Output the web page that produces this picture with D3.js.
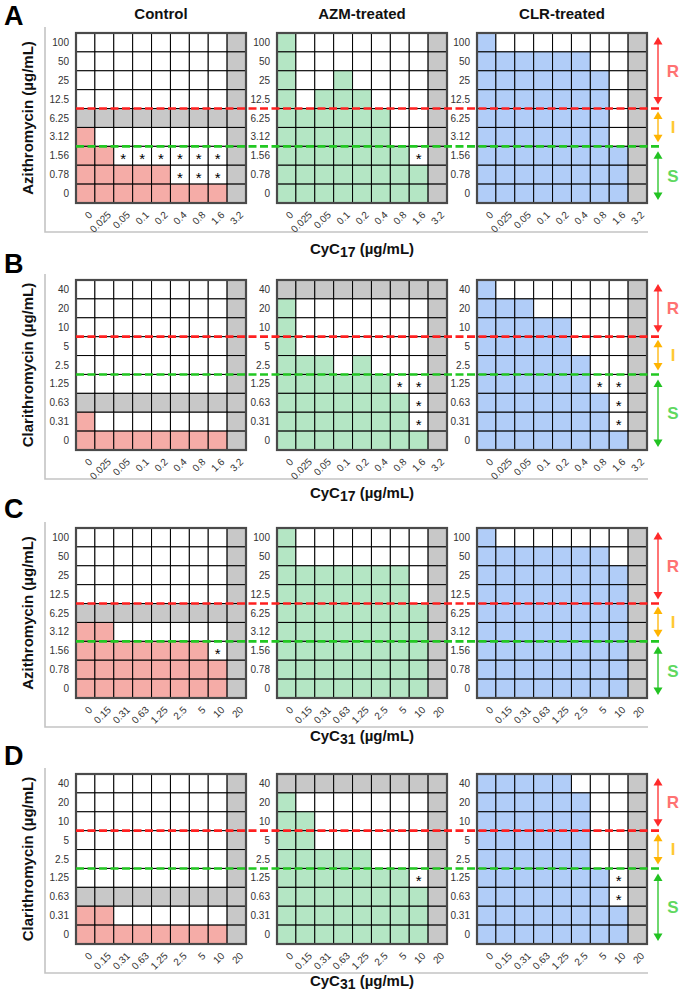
<!DOCTYPE html>
<html><head><meta charset="utf-8">
<script src="https://cdn.jsdelivr.net/npm/d3@7"></script>
<style>body{margin:0;background:#fff} svg{display:block} text{font-family:"Liberation Sans",Arial,sans-serif}</style>
</head><body><svg id="c" width="681" height="992"></svg>
<script>
// ---------- data ----------
const panelLetters = ["A", "B", "C", "D"];
const groupNames = ["Control", "AZM-treated", "CLR-treated"];
const yTitles = ["Azithromycin (µg/mL)", "Clarithromycin (µg/mL)", "Azithromycin (µg/mL)", "Clarithromycin (µg/mL)"];
const xTitleSub = ["17", "17", "31", "31"];
const azmConc = ["0", "0.78", "1.56", "3.12", "6.25", "12.5", "25", "50", "100"];
const clrConc = ["0", "0.31", "0.63", "1.25", "2.5", "5", "10", "20", "40"];
const cyc17Conc = ["0", "0.025", "0.05", "0.1", "0.2", "0.4", "0.8", "1.6", "3.2"];
const cyc31Conc = ["0", "0.15", "0.31", "0.63", "1.25", "2.5", "5", "10", "20"];
const yTicksPerPanel = [azmConc, clrConc, azmConc, clrConc];
const xTicksPerPanel = [cyc17Conc, cyc17Conc, cyc31Conc, cyc31Conc];
const resistantFrom = ["12.5", "10", "12.5", "10"];   // red line below this value
const susceptibleUpTo = ["1.56", "1.25", "1.56", "1.25"]; // green line above this value
const categories = ["R", "I", "S"];
// cell states, rows from highest concentration to 0, columns by CyC concentration
// 0 = no growth (white), 1 = growth (coloured), 2 = not determined (grey), 3 = white with *
const cellsA = [
  ["000000002","000000002","000000002","000000002","222222222","100000002","113333332","111113332","111111112"],
  ["100000002","100000002","100100002","101110002","111111002","111111002","111111132","111111112","111111112"],
  ["100000002","111111002","111111102","111111102","111111102","111111102","111111112","111111112","111111112"]
];
const cellsB = [
  ["000000002","000000002","000000002","000000002","000000002","000000002","222222222","100000002","111111112"],
  ["222222222","100000002","100000002","100000002","111010002","111111332","111111132","111111132","111111112"],
  ["100000002","111000002","111110002","111110002","111111002","111111332","111111132","111111132","111111112"]
];
const cellsC = [
  ["000000002","000000002","000000002","000000002","222222222","110000002","111111132","111111112","111111112"],
  ["100000002","100000002","111111102","111111102","111111112","111111112","111111112","111111112","111111112"],
  ["100000002","111111102","111111112","111111112","111111112","111111112","111111112","111111112","111111112"]
];
const cellsD = [
  ["000000002","000000002","000000002","000000002","000000002","000000002","222222222","110000002","111111112"],
  ["222222222","100000002","110000002","110000002","111110002","111111132","111111112","111111112","111111112"],
  ["111110002","111111002","111111002","111111002","111111002","111111132","111111132","111111112","111111112"]
];
const panelCells = [cellsA, cellsB, cellsC, cellsD];

// ---------- layout ----------
const rowTop = [33, 280, 528, 774];
const letterBaseline = [25, 273, 518, 765];
const xTitleY = [250, 494, 737, 982];
const gridLeft = [76, 277, 477];
const GS = 170;
const groupFill = ["#f5aca7", "#b4e6c4", "#b1cdf8"];
const greyFill = "#c8c8c8";
const catColor = {R: "#ff2a2a", I: "#ffb400", S: "#22c322"};
const catText = {R: "#ff7272", I: "#ffc933", S: "#5fd85f"};

const svg = d3.select("#c");

// column titles
groupNames.forEach((g, i) => {
  svg.append("text").attr("x", gridLeft[i] + GS / 2).attr("y", 18.5)
    .attr("text-anchor", "middle").attr("font-weight", "bold").attr("font-size", 15).attr("fill", "#111").text(g);
});

panelLetters.forEach((letter, p) => {
  const top = rowTop[p], bottom = top + GS;
  const g = svg.append("g");
  const yTicks = yTicksPerPanel[p].slice().reverse();
  const xTicks = xTicksPerPanel[p];
  const y = d3.scaleBand().domain(yTicks).range([top, bottom]);

  // frame
  g.append("path").attr("d", `M45,${top - 6}V${bottom + 29}H648`)
    .attr("fill", "none").attr("stroke", "#c4c4c4").attr("stroke-width", 1.6);

  // panel letter
  g.append("text").attr("x", 4).attr("y", letterBaseline[p])
    .attr("font-size", 27).attr("font-weight", "bold").attr("fill", "#000").text(letter);

  // y title
  g.append("text").attr("transform", `translate(33,${top + GS / 2}) rotate(-90)`)
    .attr("text-anchor", "middle").attr("font-weight", "bold").attr("font-size", 15).attr("fill", "#111")
    .text(yTitles[p]);

  // x title
  const xt = g.append("text").attr("x", gridLeft[1] + GS / 2).attr("y", xTitleY[p] + 4)
    .attr("text-anchor", "middle").attr("font-weight", "bold").attr("font-size", 15).attr("fill", "#111");
  xt.append("tspan").text("CyC");
  xt.append("tspan").attr("font-size", 14).attr("dy", 2.5).text(xTitleSub[p]);
  xt.append("tspan").attr("dy", -2.5).text(" (µg/mL)");

  groupNames.forEach((gn, gi) => {
    const x = d3.scaleBand().domain(xTicks).range([gridLeft[gi], gridLeft[gi] + GS]);
    const cells = [];
    panelCells[p][gi].forEach((rowStr, ri) => {
      rowStr.split("").forEach((ch, ci) => cells.push({r: yTicks[ri], c: xTicks[ci], v: +ch}));
    });
    const gg = g.append("g");
    gg.selectAll("rect.cell").data(cells).join("rect").attr("class", "cell")
      .attr("x", d => x(d.c)).attr("y", d => y(d.r))
      .attr("width", x.bandwidth()).attr("height", y.bandwidth())
      .attr("fill", d => d.v === 1 ? groupFill[gi] : d.v === 2 ? greyFill : "#fff")
      .attr("stroke", "#000").attr("stroke-width", 1);
    gg.selectAll("text.ast").data(cells.filter(d => d.v === 3)).join("text").attr("class", "ast")
      .attr("x", d => x(d.c) + x.bandwidth() / 2).attr("y", d => y(d.r) + y.bandwidth() / 2 + 8)
      .attr("text-anchor", "middle").attr("font-size", 15).attr("fill", "#000").text("*");
    gg.append("rect").attr("x", gridLeft[gi]).attr("y", top).attr("width", GS).attr("height", GS)
      .attr("fill", "none").attr("stroke", "#4a4a4a").attr("stroke-width", 2.2);

    // y axis ticks
    gg.selectAll("text.yt").data(yTicks).join("text").attr("class", "yt")
      .attr("x", gridLeft[gi] - 7).attr("y", d => y(d) + y.bandwidth() / 2).attr("dy", "0.35em")
      .attr("text-anchor", "end").attr("font-size", 10).attr("fill", "#333").text(d => d);
    // x axis ticks
    gg.selectAll("text.xt").data(xTicks).join("text").attr("class", "xt")
      .attr("transform", d => `translate(${x(d) + x.bandwidth() / 2 + 5},${bottom + 10}) rotate(-45)`)
      .attr("dy", "0.35em").attr("text-anchor", "end").attr("font-size", 10).attr("fill", "#333").text(d => d);
  });

  // breakpoint lines
  const redY = y(resistantFrom[p]) + y.bandwidth();
  const greenY = y(susceptibleUpTo[p]);
  g.append("line").attr("x1", gridLeft[0]).attr("x2", 660).attr("y1", redY).attr("y2", redY)
    .attr("stroke", "#ff2020").attr("stroke-width", 2.6).attr("stroke-dasharray", "8,3.5");
  g.append("line").attr("x1", gridLeft[0]).attr("x2", 660).attr("y1", greenY).attr("y2", greenY)
    .attr("stroke", "#22c822").attr("stroke-width", 2.6).attr("stroke-dasharray", "8,3.5");

  // R / I / S arrows
  const spans = {R: [top + 4, redY - 4], I: [redY + 3, greenY - 4], S: [greenY + 5, bottom - 3]};
  const ax = 658;
  categories.forEach(cat => {
    const [y1, y2] = spans[cat];
    const col = catColor[cat];
    g.append("line").attr("x1", ax).attr("x2", ax).attr("y1", y1 + 5).attr("y2", y2 - 5)
      .attr("stroke", col).attr("stroke-width", 1.3);
    g.append("path").attr("d", `M${ax},${y1}L${ax - 4.5},${y1 + 7.5}L${ax + 4.5},${y1 + 7.5}Z`).attr("fill", col);
    g.append("path").attr("d", `M${ax},${y2}L${ax - 4.5},${y2 - 7.5}L${ax + 4.5},${y2 - 7.5}Z`).attr("fill", col);
    g.append("text").attr("x", 673).attr("y", (y1 + y2) / 2).attr("dy", "0.36em")
      .attr("text-anchor", "middle").attr("font-weight", "bold").attr("font-size", 17)
      .attr("fill", catText[cat]).text(cat);
  });
});
</script></body></html>
